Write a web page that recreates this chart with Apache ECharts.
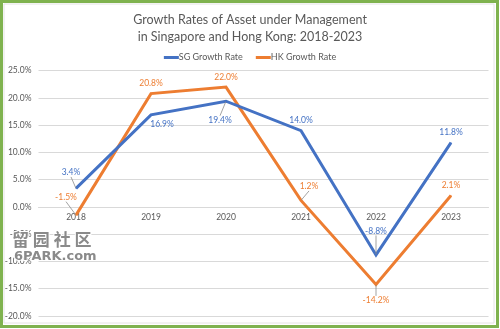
<!DOCTYPE html>
<html>
<head>
<meta charset="utf-8">
<script src="https://cdn.jsdelivr.net/npm/echarts@6/dist/echarts.min.js"></script>
<style>
  html, body { margin: 0; padding: 0; background: #fff; }
  #chart { width: 500px; height: 329px; }
</style>
</head>
<body>
<div id="chart"></div>
<script>
// Growth rates of AUM, percent
const years = ['2018', '2019', '2020', '2021', '2022', '2023'];
const sgGrowth = [3.4, 16.9, 19.4, 14.0, -8.8, 11.8];
const hkGrowth = [-1.5, 20.8, 22.0, 1.2, -14.2, 2.1];
const seriesNames = ['SG Growth Rate', 'HK Growth Rate'];
const titleText = 'Growth Rates of Asset under Management\nin Singapore and Hong Kong: 2018-2023';

// label placement around each point: [dx, dy, leader line]
const sgLabelPos = [[-5, -16, true], [11, 9, false], [-6, 19, true], [0, -10, false], [0, -24, true], [0, -10, false]];
const hkLabelPos = [[-10, -18, true], [0, -10, false], [0, -10, false], [8, -14, true], [0, 16, true], [0, -10, false]];

const BLUE = '#4472c4';
const ORANGE = '#ed7d31';
const FONT = 'Lato, "Open Sans", sans-serif';

const GRID_TOP = 70.7;
const GRID_BOTTOM = 13;
const Y_MIN = -20, Y_MAX = 25;
// distance from the bottom of the plot up to the 0% line
const plotH = 329 - GRID_TOP - GRID_BOTTOM;
const zeroLift = plotH * (0 - Y_MIN) / (Y_MAX - Y_MIN);

function buildSeries(name, values, color, pos) {
  return {
    name: name,
    type: 'line',
    data: values.map((v, i) => ({
      value: v,
      labelLine: { show: pos[i][2] }
    })),
    symbol: 'circle',
    symbolSize: 1,
    showSymbol: true,
    itemStyle: { color: color },
    lineStyle: { width: 3, color: color, join: 'miter' },
    label: {
      show: true,
      position: 'inside',
      color: color,
      fontSize: 8.5,
      fontFamily: FONT,
      formatter: p => p.value.toFixed(1) + '%'
    },
    labelLine: { show: true, lineStyle: { color: '#8c8c8c', width: 0.8 } },
    labelLayout: function (params) {
      const o = pos[params.dataIndex];
      return { dx: o[0], dy: o[1] };
    },
    emphasis: { disabled: true },
    animation: false,
    z: name === seriesNames[0] ? 3 : 2
  };
}

const chart = echarts.init(document.getElementById('chart'));
chart.setOption({
  backgroundColor: '#fff',
  animation: false,
  title: {
    text: titleText,
    left: 'center',
    top: 6,
    textStyle: {
      color: '#595959',
      fontSize: 12.5,
      fontWeight: 'normal',
      fontFamily: FONT,
      lineHeight: 17
    }
  },
  legend: {
    top: 48,
    left: 'center',
    itemWidth: 15,
    itemHeight: 3,
    itemGap: 13,
    icon: 'rect',
    textStyle: { color: '#595959', fontSize: 9, fontFamily: FONT, padding: [0, 0, 0, -5] },
    data: seriesNames
  },
  grid: { left: 38.5, right: 11.5, top: GRID_TOP, bottom: GRID_BOTTOM },
  xAxis: {
    type: 'category',
    data: years,
    boundaryGap: true,
    offset: -zeroLift,
    axisLine: { show: true, onZero: false, lineStyle: { color: '#d9d9d9', width: 1 } },
    axisTick: { show: false },
    axisLabel: { color: '#595959', fontSize: 8.5, fontFamily: FONT, margin: 6 }
  },
  yAxis: {
    type: 'value',
    min: Y_MIN,
    max: Y_MAX,
    interval: 5,
    axisLine: { show: false },
    axisTick: { show: false },
    splitLine: { lineStyle: { color: '#d9d9d9', width: 1 } },
    axisLabel: {
      color: '#595959',
      fontSize: 8.5,
      fontFamily: FONT,
      margin: 7,
      formatter: v => v.toFixed(1) + '%'
    }
  },
  series: [
    buildSeries(seriesNames[0], sgGrowth, BLUE, sgLabelPos),
    buildSeries(seriesNames[1], hkGrowth, ORANGE, hkLabelPos)
  ],
  graphic: [
    {
      type: 'rect',
      shape: { x: 4, y: 4, width: 490, height: 319 },
      style: { fill: 'none', stroke: '#e4e4e4', lineWidth: 1 },
      silent: true
    },
    {
      type: 'rect',
      shape: { x: 1.5, y: 1.5, width: 496, height: 325 },
      style: { fill: 'none', stroke: '#7fb24f', lineWidth: 3 },
      silent: true
    },
    {
      type: 'text',
      left: 11,
      top: 230,
      style: {
        text: '留 园 社 区',
        fill: '#8a8a8a',
        stroke: '#ffffff',
        lineWidth: 2,
        fontSize: 17,
        fontWeight: 'bold',
        fontFamily: '"Noto Sans CJK SC", sans-serif'
      },
      z: 10,
      silent: true
    },
    {
      type: 'text',
      left: 13,
      top: 249,
      style: {
        text: '6PARK.com',
        fill: '#8a8a8a',
        stroke: '#ffffff',
        lineWidth: 2,
        fontSize: 13,
        fontWeight: 'bold',
        fontFamily: '"DejaVu Sans", sans-serif'
      },
      z: 10,
      silent: true
    }
  ]
});
</script>
</body>
</html>
